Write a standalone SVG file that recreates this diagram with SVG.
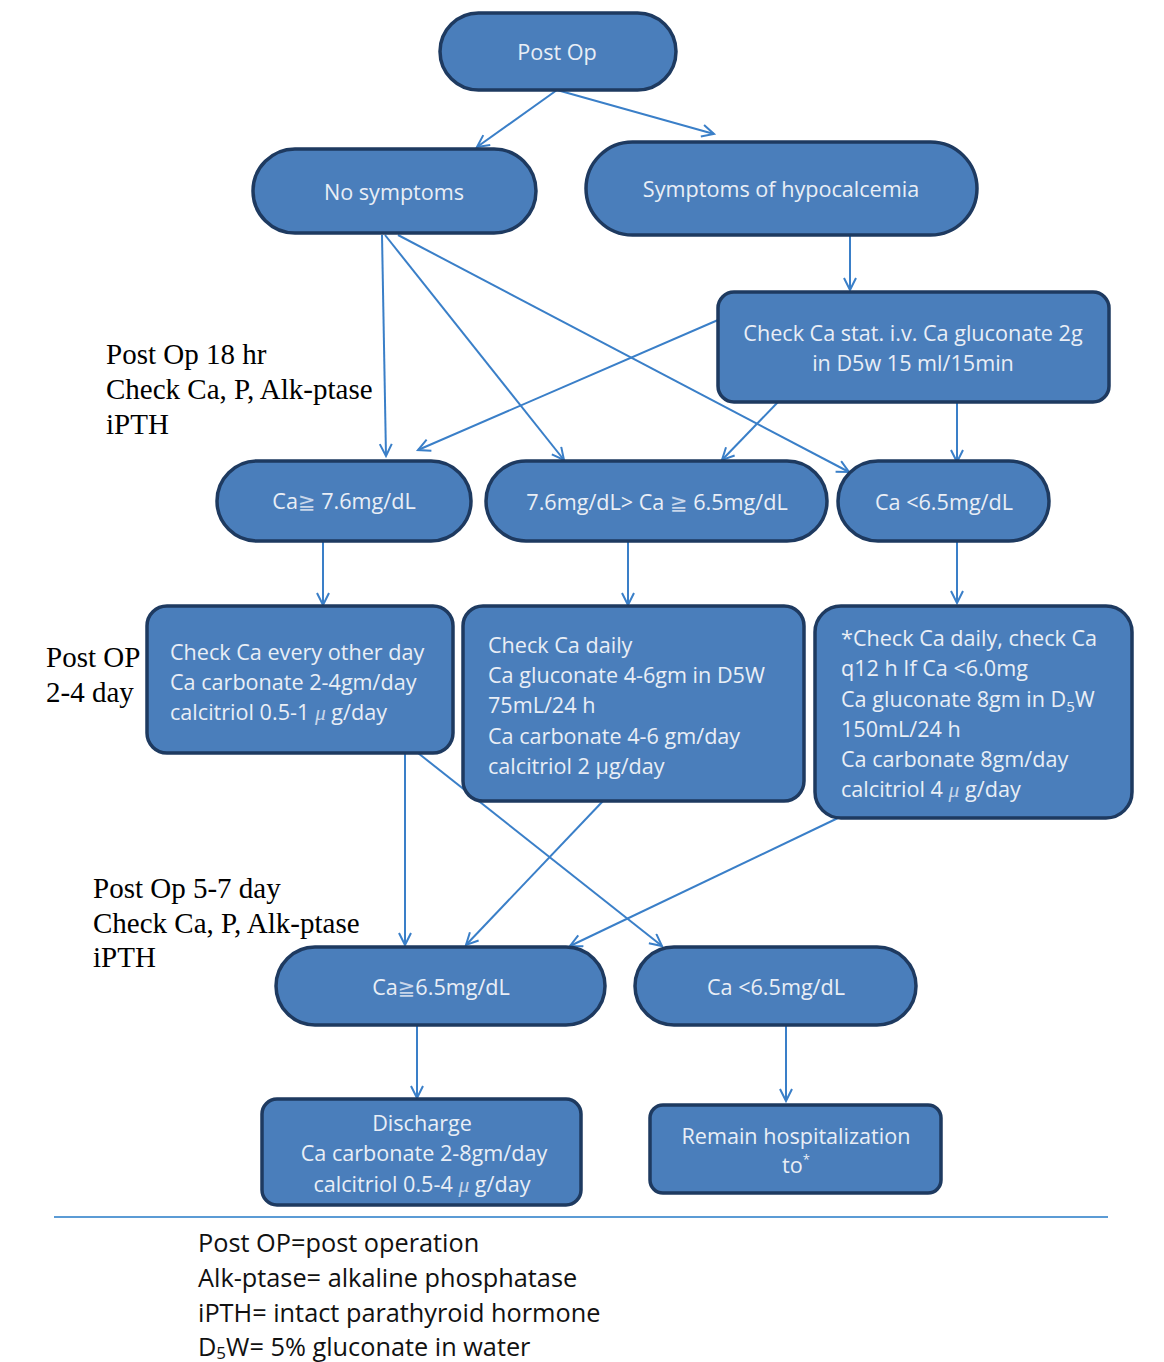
<svg xmlns="http://www.w3.org/2000/svg" width="1164" height="1362" viewBox="0 0 1164 1362">
<defs>
<marker id="arr" markerWidth="16" markerHeight="16" refX="13" refY="7" orient="auto" markerUnits="userSpaceOnUse">
<path d="M1,1 L13,7 L1,13" fill="none" stroke="#3a7fc8" stroke-width="2"/>
</marker>
</defs>
<style>
.n{fill:#4a7ebb;stroke:#1e3a60;stroke-width:3.5}
.t{font-family:"Open Sans","Noto Sans",sans-serif;font-size:21.6px;fill:#e9eef6}
.c{text-anchor:middle}
.e{stroke:#3a7fc8;stroke-width:2;fill:none;marker-end:url(#arr)}
.lab{font-family:"Liberation Serif",serif;font-size:29px;fill:#000}
.leg{font-family:"Open Sans","Noto Sans",sans-serif;font-size:25.3px;fill:#111}
.mu{font-family:"Liberation Serif",serif;font-style:italic;fill:#c8d6ea}
.ge{font-family:"DejaVu Sans",sans-serif;font-size:21px;fill:#c8d6ea}
</style>
<rect width="1164" height="1362" fill="#fff"/>
<g id="connectors">
<line class="e" x1="557" y1="90" x2="477" y2="147"/>
<line class="e" x1="557" y1="90" x2="714" y2="134"/>
<line class="e" x1="850" y1="235" x2="850" y2="290"/>
<line class="e" x1="382" y1="235" x2="386" y2="456"/>
<line class="e" x1="385" y1="235" x2="564" y2="460"/>
<line class="e" x1="398" y1="235" x2="849" y2="472"/>
<line class="e" x1="718" y1="320" x2="418" y2="450"/>
<line class="e" x1="778" y1="402" x2="722" y2="460"/>
<line class="e" x1="957" y1="402" x2="957" y2="462"/>
<line class="e" x1="323" y1="541" x2="323" y2="605"/>
<line class="e" x1="628" y1="541" x2="628" y2="605"/>
<line class="e" x1="957" y1="541" x2="957" y2="603"/>
<line class="e" x1="405" y1="753" x2="405" y2="945"/>
<line class="e" x1="418" y1="753" x2="662" y2="946"/>
<line class="e" x1="603" y1="801" x2="466" y2="945"/>
<line class="e" x1="838" y1="818" x2="570" y2="946"/>
<line class="e" x1="417" y1="1025" x2="417" y2="1098"/>
<line class="e" x1="786" y1="1025" x2="786" y2="1101"/>
</g>
<g id="postop"><rect class="n" x="440" y="13" width="236" height="77" rx="38.5"/><text class="t c" x="557" y="60">Post Op</text></g>
<g id="nosym"><rect class="n" x="253" y="149" width="283" height="84" rx="42"/><text class="t c" x="394" y="200">No symptoms</text></g>
<g id="sym"><rect class="n" x="586" y="142" width="391" height="93" rx="46.5"/><text class="t c" x="781" y="197">Symptoms of hypocalcemia</text></g>
<g id="checkstat"><rect class="n" x="718" y="292" width="391" height="110" rx="16"/><text class="t c" x="913" y="341">Check Ca stat. i.v. Ca gluconate 2g</text><text class="t c" x="913" y="371">in D5w 15 ml/15min</text></g>
<g id="ca76"><rect class="n" x="217" y="461" width="254" height="80" rx="40"/><text class="t c" x="344" y="509">Ca<tspan class="ge">≧</tspan> 7.6mg/dL</text></g>
<g id="camid"><rect class="n" x="486" y="461" width="341" height="80" rx="40"/><text class="t c" x="657" y="510">7.6mg/dL&gt; Ca <tspan class="ge">≧</tspan> 6.5mg/dL</text></g>
<g id="calow"><rect class="n" x="838" y="461" width="211" height="80" rx="40"/><text class="t c" x="944" y="510">Ca &lt;6.5mg/dL</text></g>
<g id="box1"><rect class="n" x="147" y="606" width="306" height="147" rx="20"/>
<text class="t" x="170" y="660">Check Ca every other day</text>
<text class="t" x="170" y="690">Ca carbonate 2-4gm/day</text>
<text class="t" x="170" y="720">calcitriol 0.5-1 <tspan class="mu">μ</tspan> g/day</text></g>
<g id="box2"><rect class="n" x="463" y="606" width="341" height="195" rx="20"/>
<text class="t" x="488" y="653">Check Ca daily</text>
<text class="t" x="488" y="683">Ca gluconate 4-6gm in D5W</text>
<text class="t" x="488" y="713">75mL/24 h</text>
<text class="t" x="488" y="744">Ca carbonate 4-6 gm/day</text>
<text class="t" x="488" y="774">calcitriol 2 µg/day</text></g>
<g id="box3"><rect class="n" x="815" y="606" width="317" height="212" rx="26"/>
<text class="t" x="841" y="646">*Check Ca daily, check Ca</text>
<text class="t" x="841" y="676">q12 h If Ca &lt;6.0mg</text>
<text class="t" x="841" y="707">Ca gluconate 8gm in D<tspan font-size="15" dy="5">5</tspan><tspan dy="-5">W</tspan></text>
<text class="t" x="841" y="737">150mL/24 h</text>
<text class="t" x="841" y="767">Ca carbonate 8gm/day</text>
<text class="t" x="841" y="797">calcitriol 4 <tspan class="mu">μ</tspan> g/day</text></g>
<g id="ca65"><rect class="n" x="276" y="947" width="329" height="78" rx="39"/><text class="t c" x="441" y="995">Ca<tspan class="ge">≧</tspan>6.5mg/dL</text></g>
<g id="ca65low"><rect class="n" x="635" y="947" width="281" height="78" rx="39"/><text class="t c" x="776" y="995">Ca &lt;6.5mg/dL</text></g>
<g id="discharge"><rect class="n" x="262" y="1099" width="319" height="106" rx="15"/>
<text class="t c" x="422" y="1131">Discharge</text>
<text class="t c" x="424" y="1161">Ca carbonate 2-8gm/day</text>
<text class="t c" x="422" y="1192">calcitriol 0.5-4 <tspan class="mu">μ</tspan> g/day</text></g>
<g id="remain"><rect class="n" x="650" y="1105" width="291" height="88" rx="13"/>
<text class="t c" x="796" y="1144">Remain hospitalization</text>
<text class="t c" x="796" y="1173">to<tspan font-size="13" dy="-9">*</tspan></text></g>
<g id="labels">
<text class="lab" x="106" y="364">Post Op 18 hr</text>
<text class="lab" x="106" y="399">Check Ca, P, Alk-ptase</text>
<text class="lab" x="106" y="434">iPTH</text>
<text class="lab" x="46" y="667">Post OP</text>
<text class="lab" x="46" y="702">2-4 day</text>
<text class="lab" x="93" y="898">Post Op 5-7 day</text>
<text class="lab" x="93" y="933">Check Ca, P, Alk-ptase</text>
<text class="lab" x="93" y="967">iPTH</text>
</g>
<line x1="54" y1="1217" x2="1108" y2="1217" stroke="#5b9bd5" stroke-width="2"/>
<g id="legend">
<text class="leg" x="198" y="1252">Post OP=post operation</text>
<text class="leg" x="198" y="1287">Alk-ptase= alkaline phosphatase</text>
<text class="leg" x="198" y="1322">iPTH= intact parathyroid hormone</text>
<text class="leg" x="198" y="1356">D<tspan font-size="17" dy="3">5</tspan><tspan dy="-3">W= 5% gluconate in water</tspan></text>
</g>
</svg>
